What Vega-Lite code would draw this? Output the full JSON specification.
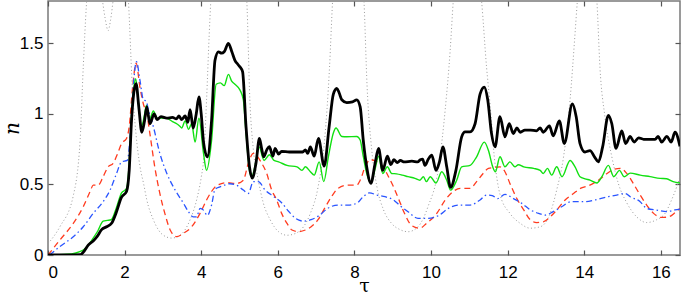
{
  "$schema": "https://vega.github.io/schema/vega-lite/v6.json",
  "width": 632,
  "height": 254,
  "autosize": {"type": "none"},
  "padding": {"left": 48, "top": 1, "right": 1, "bottom": 41},
  "background": "white",
  "config": {
    "view": {"stroke": "#7a7a7a", "strokeWidth": 1.5},
    "axis": {
      "grid": false,
      "domain": false,
      "tickColor": "#555555",
      "tickWidth": 1.2,
      "tickSize": -5,
      "labelFont": "Liberation Sans",
      "labelFontSize": 17,
      "labelColor": "black",
      "titleColor": "black"
    }
  },
  "datasets": {
    "black": [
      {"t":0,"n":0},{"t":0.5,"n":0},{"t":0.85,"n":0.003},{"t":0.95,"n":0.03},{"t":1.05,"n":0.07},{"t":1.18,"n":0.1},{"t":1.28,"n":0.13},{"t":1.4,"n":0.18},{"t":1.53,"n":0.2},{"t":1.66,"n":0.225},{"t":1.78,"n":0.3},{"t":1.92,"n":0.41},{"t":2.05,"n":0.45},{"t":2.12,"n":0.6},{"t":2.18,"n":0.95},{"t":2.24,"n":1.15},{"t":2.3,"n":1.215},{"t":2.37,"n":1.05},{"t":2.45,"n":0.87},{"t":2.52,"n":0.95},{"t":2.58,"n":1.05},{"t":2.66,"n":0.93},{"t":2.77,"n":1.0},{"t":2.85,"n":0.96},{"t":2.95,"n":0.98},{"t":3.1,"n":0.97},{"t":3.25,"n":0.975},{"t":3.35,"n":0.965},{"t":3.42,"n":0.985},{"t":3.49,"n":0.96},{"t":3.58,"n":0.985},{"t":3.65,"n":0.94},{"t":3.71,"n":1.03},{"t":3.79,"n":0.9},{"t":3.87,"n":1.0},{"t":3.94,"n":1.12},{"t":4.0,"n":1.0},{"t":4.06,"n":0.8},{"t":4.16,"n":0.696},{"t":4.27,"n":0.95},{"t":4.36,"n":1.38},{"t":4.45,"n":1.44},{"t":4.53,"n":1.43},{"t":4.6,"n":1.44},{"t":4.71,"n":1.5},{"t":4.8,"n":1.44},{"t":4.88,"n":1.38},{"t":4.96,"n":1.35},{"t":5.02,"n":1.33},{"t":5.08,"n":1.3},{"t":5.17,"n":0.91},{"t":5.26,"n":0.625},{"t":5.33,"n":0.545},{"t":5.43,"n":0.65},{"t":5.52,"n":0.826},{"t":5.58,"n":0.75},{"t":5.63,"n":0.696},{"t":5.72,"n":0.75},{"t":5.78,"n":0.767},{"t":5.87,"n":0.7},{"t":5.93,"n":0.755},{"t":6.02,"n":0.715},{"t":6.1,"n":0.735},{"t":6.3,"n":0.73},{"t":6.5,"n":0.73},{"t":6.65,"n":0.73},{"t":6.72,"n":0.745},{"t":6.78,"n":0.72},{"t":6.85,"n":0.766},{"t":6.95,"n":0.7},{"t":7.06,"n":0.826},{"t":7.21,"n":0.63},{"t":7.34,"n":0.91},{"t":7.45,"n":1.14},{"t":7.54,"n":1.18},{"t":7.6,"n":1.15},{"t":7.67,"n":1.1},{"t":7.8,"n":1.08},{"t":7.95,"n":1.085},{"t":8.06,"n":1.1},{"t":8.15,"n":1.05},{"t":8.23,"n":0.815},{"t":8.32,"n":0.625},{"t":8.43,"n":0.508},{"t":8.54,"n":0.65},{"t":8.63,"n":0.755},{"t":8.74,"n":0.6},{"t":8.86,"n":0.7},{"t":8.95,"n":0.64},{"t":9.03,"n":0.675},{"t":9.12,"n":0.655},{"t":9.2,"n":0.67},{"t":9.3,"n":0.66},{"t":9.5,"n":0.665},{"t":9.65,"n":0.66},{"t":9.72,"n":0.675},{"t":9.78,"n":0.68},{"t":9.84,"n":0.635},{"t":9.93,"n":0.68},{"t":10.02,"n":0.707},{"t":10.13,"n":0.6},{"t":10.22,"n":0.66},{"t":10.31,"n":0.766},{"t":10.41,"n":0.625},{"t":10.51,"n":0.48},{"t":10.65,"n":0.6},{"t":10.8,"n":0.837},{"t":10.89,"n":0.872},{"t":11.02,"n":0.872},{"t":11.15,"n":0.93},{"t":11.28,"n":1.14},{"t":11.39,"n":1.19},{"t":11.48,"n":1.1},{"t":11.58,"n":0.86},{"t":11.67,"n":0.766},{"t":11.8,"n":0.98},{"t":11.93,"n":0.837},{"t":12.04,"n":0.93},{"t":12.15,"n":0.86},{"t":12.24,"n":0.9},{"t":12.33,"n":0.87},{"t":12.45,"n":0.885},{"t":12.6,"n":0.885},{"t":12.75,"n":0.88},{"t":12.85,"n":0.9},{"t":12.93,"n":0.87},{"t":13.09,"n":0.915},{"t":13.19,"n":0.845},{"t":13.35,"n":0.95},{"t":13.48,"n":0.79},{"t":13.69,"n":1.07},{"t":13.79,"n":0.98},{"t":13.89,"n":0.79},{"t":14.02,"n":0.73},{"t":14.15,"n":0.74},{"t":14.28,"n":0.69},{"t":14.37,"n":0.66},{"t":14.48,"n":0.766},{"t":14.63,"n":0.99},{"t":14.72,"n":0.93},{"t":14.83,"n":0.755},{"t":14.98,"n":0.88},{"t":15.08,"n":0.79},{"t":15.2,"n":0.84},{"t":15.3,"n":0.8},{"t":15.42,"n":0.83},{"t":15.55,"n":0.82},{"t":15.7,"n":0.82},{"t":15.85,"n":0.82},{"t":15.93,"n":0.84},{"t":16.02,"n":0.8},{"t":16.16,"n":0.84},{"t":16.27,"n":0.8},{"t":16.37,"n":0.87},{"t":16.5,"n":0.77}
    ],
    "green": [
      {"t":0,"n":0},{"t":0.5,"n":0.005},{"t":0.92,"n":0.035},{"t":1.05,"n":0.07},{"t":1.18,"n":0.12},{"t":1.3,"n":0.17},{"t":1.44,"n":0.24},{"t":1.55,"n":0.245},{"t":1.65,"n":0.25},{"t":1.78,"n":0.33},{"t":1.92,"n":0.44},{"t":2.05,"n":0.47},{"t":2.12,"n":0.65},{"t":2.18,"n":0.98},{"t":2.24,"n":1.18},{"t":2.29,"n":1.25},{"t":2.36,"n":1.08},{"t":2.44,"n":0.91},{"t":2.51,"n":0.98},{"t":2.57,"n":1.06},{"t":2.65,"n":0.96},{"t":2.75,"n":1.02},{"t":2.85,"n":0.97},{"t":2.95,"n":0.97},{"t":3.1,"n":0.968},{"t":3.25,"n":0.945},{"t":3.36,"n":0.93},{"t":3.45,"n":0.91},{"t":3.49,"n":0.9},{"t":3.58,"n":0.95},{"t":3.67,"n":0.89},{"t":3.75,"n":0.93},{"t":3.84,"n":0.8},{"t":3.94,"n":0.97},{"t":4.06,"n":0.72},{"t":4.14,"n":0.6},{"t":4.27,"n":0.81},{"t":4.39,"n":1.21},{"t":4.5,"n":1.22},{"t":4.6,"n":1.2},{"t":4.71,"n":1.28},{"t":4.8,"n":1.23},{"t":4.88,"n":1.21},{"t":5.01,"n":1.17},{"t":5.1,"n":1.1},{"t":5.17,"n":0.865},{"t":5.26,"n":0.6},{"t":5.32,"n":0.555},{"t":5.4,"n":0.625},{"t":5.51,"n":0.766},{"t":5.64,"n":0.67},{"t":5.78,"n":0.71},{"t":5.9,"n":0.67},{"t":6.02,"n":0.66},{"t":6.24,"n":0.635},{"t":6.5,"n":0.625},{"t":6.63,"n":0.6},{"t":6.72,"n":0.625},{"t":6.85,"n":0.59},{"t":6.95,"n":0.566},{"t":7.08,"n":0.66},{"t":7.2,"n":0.52},{"t":7.32,"n":0.696},{"t":7.45,"n":0.865},{"t":7.52,"n":0.9},{"t":7.67,"n":0.84},{"t":7.8,"n":0.838},{"t":8.06,"n":0.84},{"t":8.15,"n":0.815},{"t":8.23,"n":0.7},{"t":8.32,"n":0.578},{"t":8.43,"n":0.51},{"t":8.54,"n":0.61},{"t":8.63,"n":0.7},{"t":8.74,"n":0.578},{"t":8.86,"n":0.625},{"t":8.97,"n":0.578},{"t":9.1,"n":0.575},{"t":9.25,"n":0.566},{"t":9.4,"n":0.555},{"t":9.58,"n":0.543},{"t":9.71,"n":0.53},{"t":9.8,"n":0.555},{"t":9.88,"n":0.52},{"t":9.98,"n":0.555},{"t":10.13,"n":0.51},{"t":10.28,"n":0.59},{"t":10.41,"n":0.53},{"t":10.51,"n":0.46},{"t":10.67,"n":0.53},{"t":10.8,"n":0.625},{"t":11.02,"n":0.635},{"t":11.19,"n":0.696},{"t":11.39,"n":0.8},{"t":11.5,"n":0.74},{"t":11.61,"n":0.625},{"t":11.68,"n":0.59},{"t":11.8,"n":0.696},{"t":11.93,"n":0.625},{"t":12.06,"n":0.66},{"t":12.19,"n":0.625},{"t":12.28,"n":0.64},{"t":12.42,"n":0.625},{"t":12.68,"n":0.614},{"t":12.85,"n":0.6},{"t":12.93,"n":0.578},{"t":13.04,"n":0.614},{"t":13.15,"n":0.566},{"t":13.28,"n":0.625},{"t":13.42,"n":0.555},{"t":13.63,"n":0.67},{"t":13.76,"n":0.625},{"t":13.89,"n":0.555},{"t":14.02,"n":0.54},{"t":14.15,"n":0.53},{"t":14.33,"n":0.51},{"t":14.46,"n":0.555},{"t":14.63,"n":0.635},{"t":14.77,"n":0.555},{"t":14.92,"n":0.6},{"t":15.04,"n":0.555},{"t":15.2,"n":0.58},{"t":15.46,"n":0.566},{"t":15.72,"n":0.555},{"t":15.98,"n":0.543},{"t":16.15,"n":0.54},{"t":16.32,"n":0.52},{"t":16.5,"n":0.51}
    ],
    "red": [
      {"t":0,"n":0},{"t":0.31,"n":0.106},{"t":0.66,"n":0.224},{"t":0.92,"n":0.342},{"t":1.1,"n":0.45},{"t":1.18,"n":0.495},{"t":1.31,"n":0.495},{"t":1.44,"n":0.555},{"t":1.57,"n":0.625},{"t":1.7,"n":0.65},{"t":1.82,"n":0.72},{"t":1.92,"n":0.79},{"t":2.05,"n":0.826},{"t":2.12,"n":0.91},{"t":2.21,"n":1.19},{"t":2.3,"n":1.36},{"t":2.4,"n":1.19},{"t":2.49,"n":1.07},{"t":2.58,"n":1.0},{"t":2.66,"n":0.86},{"t":2.79,"n":0.62},{"t":2.92,"n":0.436},{"t":3.05,"n":0.295},{"t":3.19,"n":0.177},{"t":3.36,"n":0.13},{"t":3.53,"n":0.153},{"t":3.75,"n":0.2},{"t":3.97,"n":0.295},{"t":4.14,"n":0.39},{"t":4.27,"n":0.45},{"t":4.4,"n":0.49},{"t":4.66,"n":0.513},{"t":4.92,"n":0.507},{"t":5.1,"n":0.53},{"t":5.23,"n":0.65},{"t":5.36,"n":0.72},{"t":5.47,"n":0.696},{"t":5.58,"n":0.65},{"t":5.71,"n":0.578},{"t":5.84,"n":0.46},{"t":5.97,"n":0.39},{"t":6.1,"n":0.295},{"t":6.24,"n":0.224},{"t":6.37,"n":0.177},{"t":6.54,"n":0.165},{"t":6.72,"n":0.177},{"t":6.87,"n":0.2},{"t":7.05,"n":0.25},{"t":7.22,"n":0.33},{"t":7.4,"n":0.413},{"t":7.57,"n":0.472},{"t":7.83,"n":0.495},{"t":8.06,"n":0.495},{"t":8.15,"n":0.53},{"t":8.28,"n":0.625},{"t":8.41,"n":0.676},{"t":8.59,"n":0.66},{"t":8.72,"n":0.635},{"t":8.89,"n":0.555},{"t":9.02,"n":0.483},{"t":9.15,"n":0.4},{"t":9.3,"n":0.3},{"t":9.49,"n":0.21},{"t":9.71,"n":0.19},{"t":9.88,"n":0.224},{"t":10.15,"n":0.295},{"t":10.37,"n":0.39},{"t":10.58,"n":0.45},{"t":10.76,"n":0.472},{"t":11.02,"n":0.472},{"t":11.19,"n":0.52},{"t":11.36,"n":0.578},{"t":11.5,"n":0.614},{"t":11.65,"n":0.62},{"t":11.8,"n":0.625},{"t":11.93,"n":0.59},{"t":12.06,"n":0.507},{"t":12.24,"n":0.4},{"t":12.42,"n":0.32},{"t":12.59,"n":0.25},{"t":12.76,"n":0.23},{"t":12.93,"n":0.235},{"t":13.11,"n":0.27},{"t":13.28,"n":0.318},{"t":13.5,"n":0.39},{"t":13.72,"n":0.436},{"t":13.9,"n":0.472},{"t":14.1,"n":0.49},{"t":14.37,"n":0.53},{"t":14.54,"n":0.566},{"t":14.72,"n":0.6},{"t":14.94,"n":0.614},{"t":15.11,"n":0.578},{"t":15.28,"n":0.507},{"t":15.46,"n":0.425},{"t":15.63,"n":0.354},{"t":15.81,"n":0.295},{"t":16.02,"n":0.266},{"t":16.2,"n":0.27},{"t":16.37,"n":0.3},{"t":16.5,"n":0.33}
    ],
    "blue": [
      {"t":0.04,"n":0},{"t":0.31,"n":0.06},{"t":0.66,"n":0.13},{"t":0.92,"n":0.2},{"t":1.18,"n":0.295},{"t":1.44,"n":0.378},{"t":1.62,"n":0.46},{"t":1.79,"n":0.578},{"t":1.92,"n":0.66},{"t":2.07,"n":0.67},{"t":2.15,"n":0.86},{"t":2.22,"n":1.17},{"t":2.31,"n":1.37},{"t":2.4,"n":1.24},{"t":2.49,"n":1.1},{"t":2.56,"n":1.09},{"t":2.63,"n":1.02},{"t":2.75,"n":0.91},{"t":2.92,"n":0.72},{"t":3.1,"n":0.58},{"t":3.32,"n":0.46},{"t":3.53,"n":0.37},{"t":3.66,"n":0.31},{"t":3.79,"n":0.27},{"t":3.88,"n":0.27},{"t":3.97,"n":0.33},{"t":4.06,"n":0.318},{"t":4.16,"n":0.28},{"t":4.27,"n":0.354},{"t":4.36,"n":0.465},{"t":4.49,"n":0.483},{"t":4.66,"n":0.5},{"t":4.75,"n":0.505},{"t":4.92,"n":0.495},{"t":5.1,"n":0.46},{"t":5.23,"n":0.436},{"t":5.36,"n":0.52},{"t":5.49,"n":0.52},{"t":5.67,"n":0.46},{"t":5.9,"n":0.413},{"t":6.1,"n":0.37},{"t":6.28,"n":0.31},{"t":6.46,"n":0.26},{"t":6.67,"n":0.24},{"t":6.87,"n":0.25},{"t":7.08,"n":0.28},{"t":7.3,"n":0.33},{"t":7.57,"n":0.354},{"t":7.83,"n":0.354},{"t":8.06,"n":0.366},{"t":8.23,"n":0.413},{"t":8.39,"n":0.44},{"t":8.59,"n":0.425},{"t":8.8,"n":0.413},{"t":9.02,"n":0.39},{"t":9.19,"n":0.35},{"t":9.4,"n":0.307},{"t":9.66,"n":0.26},{"t":9.92,"n":0.26},{"t":10.2,"n":0.28},{"t":10.45,"n":0.33},{"t":10.71,"n":0.354},{"t":11.02,"n":0.354},{"t":11.28,"n":0.39},{"t":11.45,"n":0.425},{"t":11.6,"n":0.42},{"t":11.74,"n":0.4},{"t":11.93,"n":0.43},{"t":12.15,"n":0.4},{"t":12.37,"n":0.366},{"t":12.59,"n":0.32},{"t":12.81,"n":0.295},{"t":12.98,"n":0.283},{"t":13.19,"n":0.307},{"t":13.41,"n":0.342},{"t":13.67,"n":0.378},{"t":14.02,"n":0.378},{"t":14.28,"n":0.39},{"t":14.63,"n":0.413},{"t":14.85,"n":0.425},{"t":15.07,"n":0.436},{"t":15.2,"n":0.413},{"t":15.46,"n":0.378},{"t":15.63,"n":0.33},{"t":15.89,"n":0.318},{"t":16.15,"n":0.307},{"t":16.37,"n":0.32},{"t":16.5,"n":0.325}
    ],
    "gray": [
      {"t":0,"n":0.08},{"t":0.31,"n":0.2},{"t":0.66,"n":0.42},{"t":0.84,"n":0.82},{"t":0.92,"n":1.33},{"t":1.0,"n":1.76},{"t":1.1,"n":2.1},{"t":1.25,"n":2.2},{"t":1.4,"n":1.85},{"t":1.49,"n":1.68},{"t":1.57,"n":1.59},{"t":1.63,"n":1.66},{"t":1.72,"n":1.85},{"t":1.9,"n":2.3},{"t":2.05,"n":2.0},{"t":2.1,"n":1.8},{"t":2.2,"n":1.2},{"t":2.3,"n":0.85},{"t":2.4,"n":0.63},{"t":2.5,"n":0.5},{"t":2.58,"n":0.39},{"t":2.75,"n":0.25},{"t":3.01,"n":0.14},{"t":3.23,"n":0.12},{"t":3.45,"n":0.14},{"t":3.71,"n":0.25},{"t":3.88,"n":0.39},{"t":4.0,"n":0.55},{"t":4.06,"n":0.67},{"t":4.14,"n":1.1},{"t":4.21,"n":1.57},{"t":4.25,"n":1.8},{"t":4.4,"n":2.3},{"t":4.7,"n":2.5},{"t":5.0,"n":2.3},{"t":5.19,"n":1.8},{"t":5.27,"n":1.1},{"t":5.36,"n":0.75},{"t":5.49,"n":0.53},{"t":5.62,"n":0.37},{"t":5.8,"n":0.25},{"t":6.02,"n":0.165},{"t":6.24,"n":0.14},{"t":6.46,"n":0.153},{"t":6.67,"n":0.2},{"t":6.85,"n":0.295},{"t":7.05,"n":0.48},{"t":7.22,"n":0.81},{"t":7.35,"n":1.33},{"t":7.43,"n":1.8},{"t":7.6,"n":2.3},{"t":7.85,"n":2.5},{"t":8.1,"n":2.3},{"t":8.25,"n":1.8},{"t":8.33,"n":1.2},{"t":8.45,"n":0.75},{"t":8.59,"n":0.48},{"t":8.76,"n":0.32},{"t":8.97,"n":0.224},{"t":9.19,"n":0.18},{"t":9.4,"n":0.165},{"t":9.66,"n":0.2},{"t":9.92,"n":0.342},{"t":10.2,"n":0.625},{"t":10.37,"n":1.03},{"t":10.5,"n":1.45},{"t":10.58,"n":1.8},{"t":10.75,"n":2.3},{"t":10.95,"n":2.4},{"t":11.15,"n":2.2},{"t":11.32,"n":1.8},{"t":11.45,"n":1.33},{"t":11.54,"n":1.07},{"t":11.65,"n":0.7},{"t":11.8,"n":0.43},{"t":12.06,"n":0.295},{"t":12.33,"n":0.224},{"t":12.59,"n":0.19},{"t":12.85,"n":0.2},{"t":13.11,"n":0.295},{"t":13.28,"n":0.46},{"t":13.46,"n":0.696},{"t":13.63,"n":1.1},{"t":13.76,"n":1.57},{"t":13.82,"n":1.8},{"t":13.95,"n":2.2},{"t":14.1,"n":2.25},{"t":14.25,"n":2.0},{"t":14.33,"n":1.8},{"t":14.41,"n":1.33},{"t":14.54,"n":0.98},{"t":14.72,"n":0.696},{"t":14.89,"n":0.507},{"t":15.11,"n":0.37},{"t":15.37,"n":0.27},{"t":15.63,"n":0.23},{"t":15.89,"n":0.25},{"t":16.11,"n":0.295},{"t":16.28,"n":0.39},{"t":16.41,"n":0.48},{"t":16.5,"n":0.555}
    ]
  },
  "layer": [
    {
      "data": {"name": "gray"},
      "mark": {"type": "line", "clip": true, "interpolate": "monotone", "color": "#9a9a9a", "strokeWidth": 1, "strokeDash": [1, 2.5]},
      "encoding": {
        "x": {"field": "t", "type": "quantitative", "scale": {"domain": [0, 16.5], "nice": false},
              "axis": {"orient": "top", "labels": false, "title": null, "values": [0,2,4,6,8,10,12,14,16]}},
        "y": {"field": "n", "type": "quantitative", "scale": {"domain": [0, 1.8], "nice": false},
              "axis": {"orient": "right", "labels": false, "title": null, "values": [0,0.5,1,1.5]}}
      }
    },
    {
      "data": {"name": "red"},
      "mark": {"type": "line", "clip": true, "interpolate": "monotone", "color": "#ff3b1f", "strokeWidth": 1.3, "strokeDash": [6, 4]},
      "encoding": {
        "x": {"field": "t", "type": "quantitative", "axis": null},
        "y": {"field": "n", "type": "quantitative", "axis": null}
      }
    },
    {
      "data": {"name": "blue"},
      "mark": {"type": "line", "clip": true, "interpolate": "monotone", "color": "#2a55ff", "strokeWidth": 1.3, "strokeDash": [6, 3, 1.5, 3]},
      "encoding": {
        "x": {"field": "t", "type": "quantitative", "axis": null},
        "y": {"field": "n", "type": "quantitative", "axis": null}
      }
    },
    {
      "data": {"name": "green"},
      "mark": {"type": "line", "clip": true, "interpolate": "monotone", "color": "#11e011", "strokeWidth": 1.4},
      "encoding": {
        "x": {"field": "t", "type": "quantitative", "axis": null},
        "y": {"field": "n", "type": "quantitative", "axis": null}
      }
    },
    {
      "data": {"name": "black"},
      "mark": {"type": "line", "clip": true, "interpolate": "monotone", "color": "black", "strokeWidth": 2.8},
      "encoding": {
        "x": {"field": "t", "type": "quantitative",
              "axis": {"orient": "bottom", "values": [0,2,4,6,8,10,12,14,16], "labelPadding": 14, "title": "τ", "titleFont": "DejaVu Serif", "titleFontSize": 19, "titleFontWeight": "normal", "titlePadding": -4}},
        "y": {"field": "n", "type": "quantitative",
              "axis": {"orient": "left", "values": [0,0.5,1,1.5], "format": "~g", "labelPadding": 10, "title": "n", "titleFont": "DejaVu Serif", "titleFontStyle": "italic", "titleFontSize": 20, "titleFontWeight": "normal", "titlePadding": -3}}
      }
    }
  ],
  "resolve": {"axis": {"x": "independent", "y": "independent"}}
}
